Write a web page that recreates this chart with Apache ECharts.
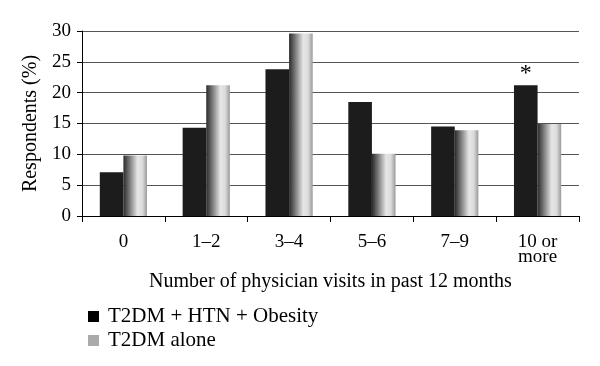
<!DOCTYPE html>
<html><head><meta charset="utf-8">
<script src="https://cdn.jsdelivr.net/npm/echarts@6/dist/echarts.min.js"></script>
<style>html,body{margin:0;padding:0;background:#fff}#c{width:600px;height:366px}</style>
</head><body><div id="c"></div>
<script>
const categories = ['0', '1–2', '3–4', '5–6', '7–9', '10 or\nmore'];
const comboValues = [7.1, 14.3, 23.8, 18.5, 14.5, 21.2];
const aloneValues = [9.8, 21.2, 29.6, 10.1, 13.9, 14.9];
const yTicks = [0, 5, 10, 15, 20, 25, 30];
const seriesNames = ['T2DM + HTN + Obesity', 'T2DM alone'];
const markedIndex = 5;

const font = 'Liberation Serif';
const chart = echarts.init(document.getElementById('c'));
const greyGrad = new echarts.graphic.LinearGradient(0, 0, 1, 0, [
  {offset: 0, color: '#2a2a2a'},
  {offset: 0.25, color: '#777'},
  {offset: 0.6, color: '#e6e6e6'},
  {offset: 0.8, color: '#dcdcdc'},
  {offset: 1, color: '#9a9a9a'}
]);
chart.setOption({
  animation: false,
  textStyle: {fontFamily: font, color: '#000'},
  grid: {left: 82, right: 21, top: 31, bottom: 150},
  legend: {
    orient: 'vertical', left: 83, top: 301, itemWidth: 11, itemHeight: 11, itemGap: 3,
    icon: 'rect',
    textStyle: {fontFamily: font, fontSize: 21, color: '#000', padding: [0, 0, 0, 4]},
    data: [
      {name: seriesNames[0], itemStyle: {color: '#000'}},
      {name: seriesNames[1], itemStyle: {color: '#aaa'}}
    ]
  },
  xAxis: {
    type: 'category', data: categories,
    name: 'Number of physician visits in past 12 months',
    nameLocation: 'middle', nameGap: 46,
    nameTextStyle: {fontFamily: font, fontSize: 20, color: '#000'},
    axisLine: {lineStyle: {color: '#000', width: 1}},
    axisTick: {show: true, length: 6, lineStyle: {color: '#000'}},
    axisLabel: {fontFamily: font, fontSize: 19, color: '#000', margin: 19, lineHeight: 15, verticalAlign: 'top'}
  },
  yAxis: {
    type: 'value', min: yTicks[0], max: yTicks[yTicks.length - 1], interval: 5,
    name: 'Respondents (%)', nameLocation: 'middle', nameGap: 40,
    nameTextStyle: {fontFamily: font, fontSize: 20, color: '#000'},
    axisLine: {show: true, lineStyle: {color: '#000'}},
    axisTick: {show: true, length: 5, lineStyle: {color: '#000'}},
    axisLabel: {fontFamily: font, fontSize: 19, color: '#000', margin: 11},
    splitLine: {lineStyle: {color: '#555', width: 1}}
  },
  series: [
    {
      name: seriesNames[0], type: 'bar', barGap: '0%', barCategoryGap: '43%',
      itemStyle: {color: '#1c1c1c'},
      data: comboValues.map((v, i) => i === markedIndex ? {
        value: v,
        label: {show: true, position: 'top', formatter: '*', fontSize: 24, fontFamily: font, color: '#000', distance: 0}
      } : v)
    },
    {
      name: seriesNames[1], type: 'bar',
      itemStyle: {color: greyGrad},
      data: aloneValues
    }
  ]
});
</script></body></html>
